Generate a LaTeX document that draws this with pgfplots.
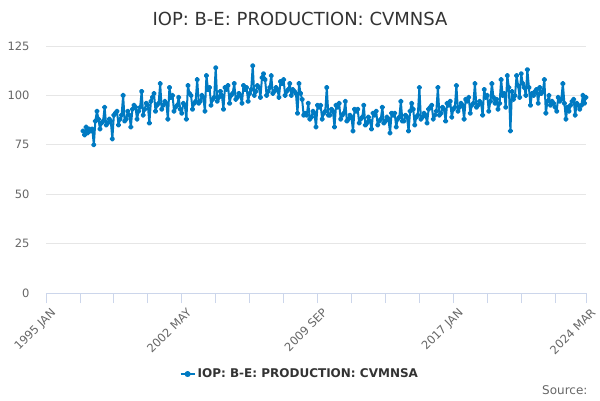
\documentclass[border=0pt]{standalone}
\usepackage{pgfplots}
\pgfplotsset{compat=1.18}
\usepackage{pgfplotstable}
\usepackage{fontspec}
\setmainfont{DejaVu Sans}
\definecolor{linec}{RGB}{0,122,194}
\definecolor{gridc}{RGB}{230,230,230}
\definecolor{axisc}{RGB}{204,214,235}
\definecolor{txt}{RGB}{102,102,102}
\definecolor{ttl}{RGB}{51,51,51}

% monthly values, 1997 JAN .. 2024 MAR (one year per line)
\pgfplotstableread[row sep=\\]{
v\\
82\\80\\84\\81\\83\\82\\83\\75\\87\\92\\88\\83\\
86\\87\\94\\85\\86\\88\\87\\78\\90\\91\\92\\85\\
88\\90\\100\\87\\88\\92\\90\\84\\93\\95\\94\\88\\
92\\94\\102\\90\\93\\96\\95\\86\\97\\99\\101\\92\\
95\\96\\106\\93\\95\\97\\96\\88\\104\\99\\100\\92\\
94\\95\\99\\93\\91\\96\\95\\88\\105\\101\\100\\93\\
96\\97\\108\\96\\97\\100\\99\\92\\110\\103\\104\\95\\
98\\99\\114\\97\\99\\102\\100\\93\\104\\103\\105\\96\\
100\\101\\106\\98\\99\\101\\100\\96\\105\\103\\104\\97\\
101\\103\\115\\100\\102\\105\\104\\99\\109\\111\\108\\100\\
102\\104\\110\\101\\102\\104\\103\\99\\107\\106\\108\\100\\
102\\103\\106\\100\\103\\102\\101\\91\\106\\101\\98\\90\\
91\\90\\96\\88\\89\\92\\91\\84\\95\\94\\95\\88\\
91\\92\\104\\90\\90\\93\\92\\84\\95\\94\\96\\88\\
90\\91\\97\\87\\88\\90\\89\\82\\93\\92\\93\\86\\
88\\89\\95\\85\\86\\89\\87\\83\\91\\90\\92\\85\\
87\\88\\94\\86\\87\\89\\88\\81\\91\\90\\91\\84\\
88\\89\\97\\87\\87\\90\\89\\82\\92\\96\\93\\85\\
89\\90\\104\\88\\89\\91\\90\\86\\93\\94\\95\\88\\
90\\92\\104\\90\\91\\94\\93\\87\\96\\95\\97\\89\\
93\\94\\105\\92\\94\\96\\95\\88\\98\\97\\99\\91\\
95\\96\\106\\94\\95\\97\\96\\90\\103\\99\\100\\92\\
97\\106\\99\\96\\98\\93\\96\\108\\100\\101\\94\\110\\
104\\82\\102\\98\\100\\110\\105\\99\\111\\106\\104\\100\\
113\\104\\95\\101\\100\\102\\103\\96\\104\\101\\102\\108\\
91\\97\\100\\95\\97\\96\\94\\92\\99\\97\\98\\106\\
96\\88\\94\\92\\95\\97\\98\\90\\96\\95\\93\\95\\
100\\96\\99\\
}\iop

\begin{document}
\begin{tikzpicture}[x=1pt,y=1pt]
\useasboundingbox (0,0) rectangle (600,400);
\node[font=\fontsize{18}{21}\selectfont, text=ttl] at (300,381) {IOP: B-E: PRODUCTION: CVMNSA};
\begin{axis}[
  at={(46pt,107pt)}, anchor=south west,
  scale only axis, width=540pt, height=247pt,
  xmin=0, xmax=350, ymin=0, ymax=125,
  xtick={0,88,176,264,350},
  xticklabels={1995 JAN,2002 MAY,2009 SEP,2017 JAN,2024 MAR},
  minor xtick={22,44,66,110,132,154,198,220,242,286,308,330},
  ytick={0,25,...,125},
  axis x line*=bottom, axis y line*=left,
  y axis line style={draw=none},
  x axis line style={axisc, line width=0.8pt},
  ytick style={draw=none},
  xtick style={axisc, line width=0.8pt},
  minor x tick style={axisc, line width=0.8pt},
  tick align=outside, major tick length=10pt, minor tick length=10pt,
  ymajorgrids, grid style={gridc, line width=0.8pt},
  tick label style={font=\fontsize{11.5}{13}\selectfont, text=txt},
  /pgf/number format/assume math mode=true,
  xticklabel style={rotate=45, anchor=north east, inner sep=1pt, xshift=1pt, yshift=-5pt},
  yticklabel style={anchor=east, xshift=-3pt},
  legend style={at={(0.47,-0.328)}, anchor=center, draw=none, fill=none,
    font=\bfseries\fontsize{12}{14}\selectfont, text=ttl},
  legend image code/.code={
    \draw[linec, line width=2pt] (0pt,0pt) -- (14pt,0pt);
    \fill[linec] (7pt,0pt) circle (2pt);},
]
\addplot[linec, line width=2pt, line join=round, mark=*, mark size=1.7pt,
  mark options={fill=linec, draw=linec}]
  table[x expr=\coordindex+24, y=v] {\iop};
\addlegendentry{IOP: B-E: PRODUCTION: CVMNSA}
\end{axis}
\node[anchor=east, text=txt, font=\fontsize{12}{14}\selectfont] at (591,10) {Source:};
\end{tikzpicture}
\end{document}
